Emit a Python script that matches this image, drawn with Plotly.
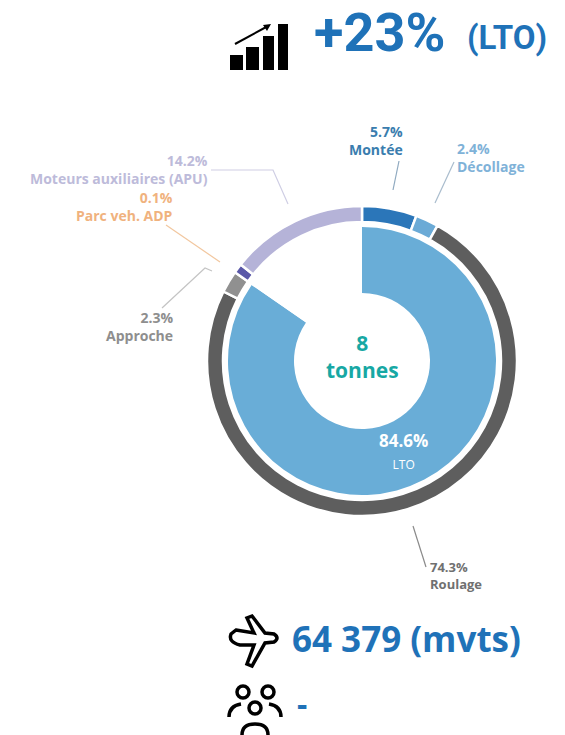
import plotly.graph_objects as go

WIDTH = 565
HEIGHT = 735

# Outer ring, clockwise from 12 o'clock (Parc veh. is drawn wider than its 0.1% label)
ring_names = ["Montée", "Décollage", "Roulage", "Approche", "Parc veh. ADP", "Moteurs auxiliaires (APU)"]
ring_values = [5.7, 2.4, 74.3, 2.3, 1.0, 14.3]
ring_colors = ["#2B76B9", "#6BAAD6", "#5E5E5E", "#909090", "#5A58A8", "#B5B3D8"]

# Inner ring
inner_names = ["LTO", "Autre"]
inner_values = [84.6, 15.4]
inner_colors = ["#69ADD7", "#FFFFFF"]

FONT = "Open Sans"
BLUE = "#1F72B8"


def domain(cx, cy, r):
    return dict(x=[(cx - r) / WIDTH, (cx + r) / WIDTH],
                y=[1 - (cy + r) / HEIGHT, 1 - (cy - r) / HEIGHT])


fig = go.Figure()

fig.add_trace(go.Pie(
    labels=ring_names, values=ring_values, sort=False, direction="clockwise", rotation=0,
    hole=139 / 155, domain=domain(362, 361, 155), textinfo="none", hoverinfo="label+value",
    marker=dict(colors=ring_colors, line=dict(color="white", width=2.5)), showlegend=False,
))
fig.add_trace(go.Pie(
    labels=inner_names, values=inner_values, sort=False, direction="clockwise", rotation=0,
    hole=68 / 134, domain=domain(362, 361, 134), textinfo="none", hoverinfo="label+value",
    marker=dict(colors=inner_colors, line=dict(color="white", width=0)), showlegend=False,
))
# empty trace so the pixel-sized axes exist for the icons and leader lines
fig.add_trace(go.Scatter(x=[], y=[], showlegend=False))


def label(x, y, text, size, color, anchor="center", family=FONT):
    fig.add_annotation(x=x, y=y, xref="x", yref="y", text=text, showarrow=False, xanchor=anchor,
                       align=anchor, yanchor="middle", font=dict(family=family, size=size, color=color))


def leader(path, color):
    fig.add_shape(type="path", path=path, xref="x", yref="y", line=dict(color=color, width=1.2))


# Headline
label(312, 32.5, "<b>+23%</b>", 54, BLUE, "left", family="Roboto")
label(465, 37, "<b>(LTO)</b>", 33, BLUE, "left", family="Roboto")
label(290, 638, "<b>64 379 (mvts)</b>", 35, BLUE, "left")
label(295, 703, "<b>-</b>", 32, BLUE, "left")

# Centre and inner labels
label(362, 356, "<b>8<br>tonnes</b>", 21, "#17A8A4")
label(403, 451, "<b>84.6%</b><br><span style='font-size:12px'>LTO</span>", 17, "white")

# Slice labels
label(210, 169, "<b>14.2%<br>Moteurs auxiliaires (APU)</b>", 14, "#BDBBDA", "right")
label(175, 206.5, "<b>0.1%<br>Parc veh. ADP</b>", 14, "#F0B27E", "right")
label(175, 326, "<b>2.3%<br>Approche</b>", 14, "#8E8E8E", "right")
label(405, 140, "<b>5.7%<br>Montée</b>", 14, "#3A7DAE", "right")
label(455, 157, "<b>2.4%<br>Décollage</b>", 14, "#7FB2D8", "left")
label(428, 575, "<b>74.3%<br>Roulage</b>", 13, "#707070", "left")

# Leader lines
leader("M 211 170 L 273 170 L 288 204", "#CFCEE4")
leader("M 166 225 L 220 262", "#F2C79F")
leader("M 162 308 L 205 268 L 212 271", "#C4C4C4")
leader("M 399 161 L 393 190", "#8FA9C0")
leader("M 454 162 L 435 203", "#A9BCCD")
leader("M 413 526 L 426 567", "#8A8A8A")

# Growth icon
for x0, x1, y0 in [(230, 243, 55), (246, 259, 47), (263, 274, 36), (278, 288, 24)]:
    fig.add_shape(type="rect", x0=x0, x1=x1, y0=y0, y1=70, xref="x", yref="y", fillcolor="black", line_width=0)
fig.add_shape(type="line", x0=235, y0=44, x1=268, y1=26, xref="x", yref="y", line=dict(color="black", width=2))
fig.add_shape(type="path", path="M 271 24 L 263 25 L 267 31 Z", xref="x", yref="y", fillcolor="black", line_width=0)

# Plane icon
fig.add_shape(type="path", xref="x", yref="y", line=dict(color="black", width=3.5),
              path="M 236 630 L 254 633 L 247 618 L 252 616 L 265 633 L 274 634 Q 280 638 274 642 "
                   "L 265 643 L 252 666 L 247 664 L 254 645 L 240 645 Q 228 642 231 634 Z")

# People icon
for cx, cy in [(243, 692), (268, 692), (255, 708)]:
    fig.add_shape(type="circle", x0=cx - 6, x1=cx + 6, y0=cy - 6, y1=cy + 6, xref="x", yref="y",
                  line=dict(color="black", width=3.5))
for p in ["M 229 717 Q 229 706 241 704", "M 281 717 Q 281 706 269 704", "M 242 735 Q 242 724 255 724 Q 268 724 268 735"]:
    fig.add_shape(type="path", path=p, xref="x", yref="y", line=dict(color="black", width=3.5))

fig.update_layout(
    width=WIDTH, height=HEIGHT, margin=dict(l=0, r=0, t=0, b=0, autoexpand=False),
    paper_bgcolor="white", plot_bgcolor="white",
    xaxis=dict(range=[0, WIDTH], visible=False, domain=[0, 1]),
    yaxis=dict(range=[HEIGHT, 0], visible=False, domain=[0, 1]),
    showlegend=False,
)

fig.write_html("out.html", config=dict(displayModeBar=False), post_script="document.body.style.margin='0';")
